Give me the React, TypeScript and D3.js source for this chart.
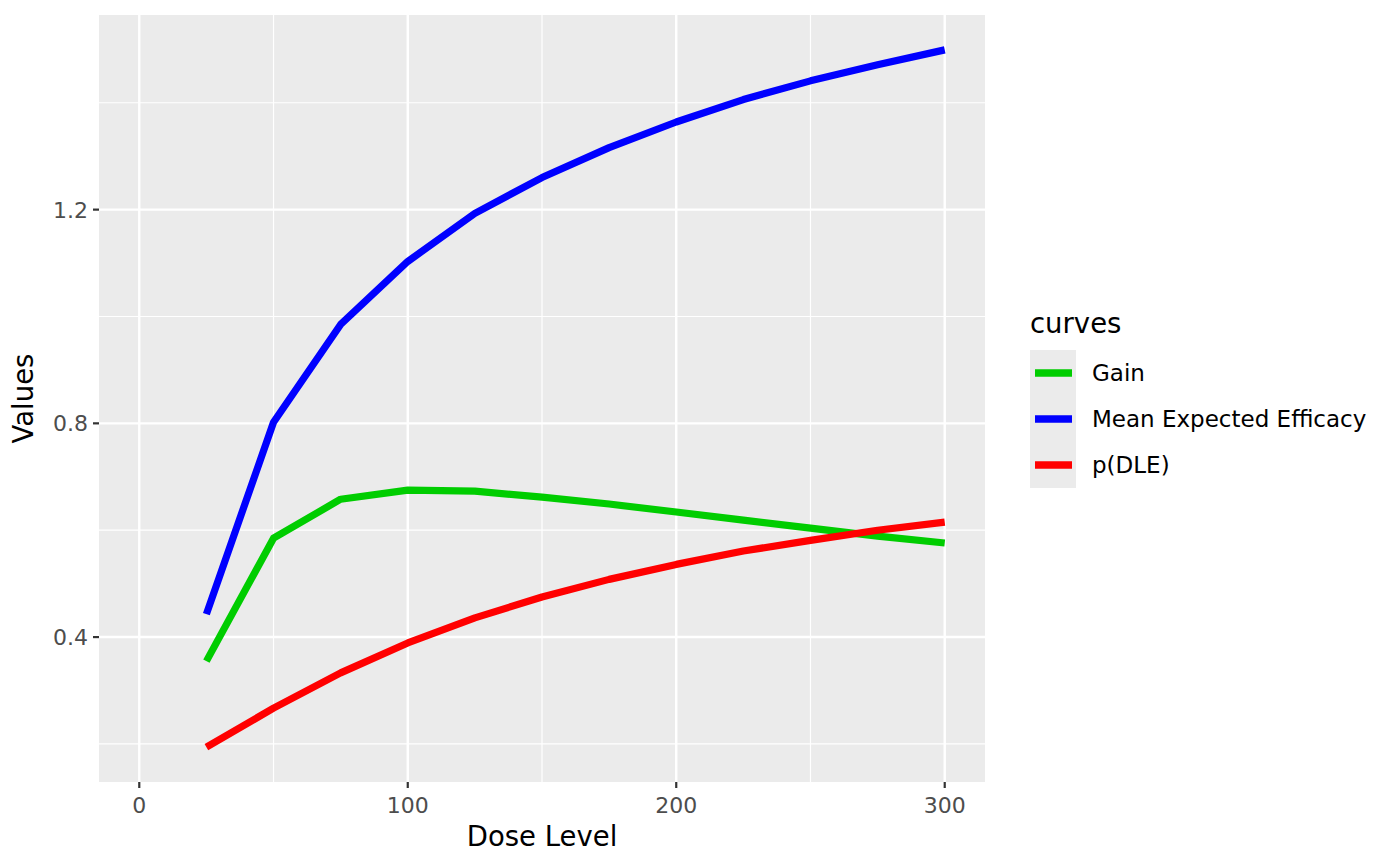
import React from "react";
import * as d3 from "d3";

const doses = [25, 50, 75, 100, 125, 150, 175, 200, 225, 250, 275, 300];
const gain = [0.355, 0.585, 0.658, 0.675, 0.673, 0.662, 0.649, 0.634, 0.619, 0.604, 0.589, 0.576];
const meanEff = [0.443, 0.802, 0.985, 1.103, 1.193, 1.26, 1.316, 1.364, 1.406, 1.441, 1.471, 1.499];
const pDLE = [0.194, 0.267, 0.333, 0.389, 0.436, 0.475, 0.508, 0.536, 0.561, 0.581, 0.6, 0.615];

const seriesNames = ["Gain", "Mean Expected Efficacy", "p(DLE)"];
const seriesColors = ["#00CD00", "#0000FF", "#FF0000"];
const seriesValues = [gain, meanEff, pDLE];

const xTicks = [0, 100, 200, 300];
const xMinor = [50, 150, 250];
const yTicks = [0.4, 0.8, 1.2];
const yMinor = [0.2, 0.6, 1.0, 1.4];

export default function App() {
  const W = 1400, H = 866;
  const left = 99, right = 985, top = 15, bottom = 782;
  const x = d3.scaleLinear().domain([-15, 315]).range([left, right]);
  const allVals = [...gain, ...meanEff, ...pDLE];
  const yMin = d3.min(allVals)!, yMax = d3.max(allVals)!;
  const pad = (yMax - yMin) * 0.05;
  const y = d3.scaleLinear().domain([yMin - pad, yMax + pad]).range([bottom, top]);
  const line = d3.line<[number, number]>().x(d => x(d[0])).y(d => y(d[1]));
  const font = "'DejaVu Sans', sans-serif";
  const tickFs = 22;
  const legFs = 23;
  const titleFs = 27.5;

  return (
    <svg width={W} height={H} style={{ position: "absolute", left: 0, top: 0 }} fontFamily={font}>
      <rect x={0} y={0} width={W} height={H} fill="#fff" />
      <rect x={left} y={top} width={right - left} height={bottom - top} fill="#EBEBEB" />
      {yMinor.map(v => (
        <line key={"ym" + v} x1={left} x2={right} y1={y(v)} y2={y(v)} stroke="#fff" strokeWidth={1.2} />
      ))}
      {xMinor.map(v => (
        <line key={"xm" + v} x1={x(v)} x2={x(v)} y1={top} y2={bottom} stroke="#fff" strokeWidth={1.2} />
      ))}
      {yTicks.map(v => (
        <line key={"yM" + v} x1={left} x2={right} y1={y(v)} y2={y(v)} stroke="#fff" strokeWidth={2.4} />
      ))}
      {xTicks.map(v => (
        <line key={"xM" + v} x1={x(v)} x2={x(v)} y1={top} y2={bottom} stroke="#fff" strokeWidth={2.4} />
      ))}
      {seriesValues.map((vals, i) => (
        <path
          key={seriesNames[i]}
          d={line(doses.map((d, j) => [d, vals[j]] as [number, number]))!}
          fill="none"
          stroke={seriesColors[i]}
          strokeWidth={7.2}
          strokeLinecap="butt"
          strokeLinejoin="round"
        />
      ))}
      {yTicks.map(v => (
        <g key={"yt" + v}>
          <line x1={left - 6} x2={left} y1={y(v)} y2={y(v)} stroke="#333333" strokeWidth={2.2} />
          <text x={left - 11} y={y(v)} dy="0.36em" textAnchor="end" fontSize={tickFs} fill="#4D4D4D">
            {v.toFixed(1)}
          </text>
        </g>
      ))}
      {xTicks.map(v => (
        <g key={"xt" + v}>
          <line x1={x(v)} x2={x(v)} y1={bottom} y2={bottom + 6} stroke="#333333" strokeWidth={2.2} />
          <text x={x(v)} y={813} textAnchor="middle" fontSize={tickFs} fill="#4D4D4D">
            {v}
          </text>
        </g>
      ))}
      <text x={(left + right) / 2} y={846} textAnchor="middle" fontSize={titleFs} fill="#000">
        Dose Level
      </text>
      <text
        transform={`translate(${33},${(top + bottom) / 2}) rotate(-90)`}
        textAnchor="middle"
        fontSize={titleFs}
        fill="#000"
      >
        Values
      </text>
      <text x={1030} y={333} fontSize={titleFs} fill="#000">curves</text>
      <rect x={1030} y={350} width={46} height={138} fill="#EBEBEB" />
      {seriesNames.map((n, i) => {
        const cy = 373 + i * 46;
        return (
          <g key={"lg" + n}>
            <line x1={1035} x2={1072} y1={cy} y2={cy} stroke={seriesColors[i]} strokeWidth={7.5} />
            <text x={1092} y={cy} dy="0.36em" fontSize={legFs} fill="#000">{n}</text>
          </g>
        );
      })}
    </svg>
  );
}
